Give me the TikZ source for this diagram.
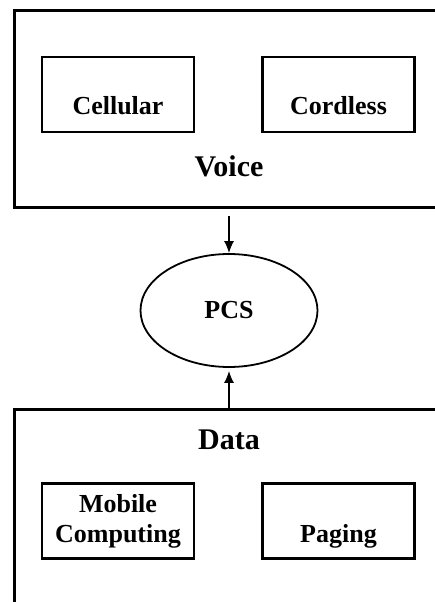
\documentclass[tikz,border=0pt]{standalone}
\usepackage{fontspec}
\setmainfont{Liberation Serif}
\usetikzlibrary{shapes.geometric,arrows.meta}
\begin{document}
\begin{tikzpicture}[x=1pt,y=-1pt,
  groupbox/.style={draw,line width=2.8pt,anchor=north west,inner sep=0pt,
    minimum width=460pt},
  itembox/.style={draw,line width=2.4pt,minimum width=152pt,minimum height=75pt,
    inner sep=0pt},
  itemtext/.style={font=\fontsize{26}{30}\selectfont\bfseries,align=center},
  grouptext/.style={font=\fontsize{30}{34}\selectfont\bfseries},
  hub/.style={draw,ellipse,line width=1.8pt,minimum width=177pt,
    minimum height=113pt,inner sep=0pt,font=\fontsize{26}{30}\selectfont\bfseries},
  feed/.style={line width=1.4pt,-{Latex[length=12pt,width=10pt]}}
]
\useasboundingbox (0,0) rectangle (435,602);
\clip (0,0) rectangle (435,602);

% Voice group
\node[groupbox,minimum height=197pt] (voice) at (13,9) {};
\node[itembox,label={[itemtext,yshift=-11.5pt]center:Cellular}] (cellular) at (118,94.5) {};
\node[itembox,label={[itemtext,yshift=-11.5pt]center:Cordless}] (cordless) at (338.5,94.5) {};
\node[grouptext] (voicetitle) at (229,166) {Voice};

% Central PCS node
\node[hub] (pcs) at (229,310.5) {PCS};

% Data group
\node[groupbox,minimum height=240pt] (data) at (13,408) {};
\node[grouptext] (datatitle) at (229,440) {Data};
\node[itembox,label={[itemtext]center:Mobile\\Computing}] (mobile) at (118,521) {};
\node[itembox,label={[itemtext,yshift=-15pt]center:Paging}] (paging) at (338.5,521) {};

% Connectors into PCS
\coordinate (voicefoot) at (voice.south -| pcs);
\coordinate (datahead) at (data.north -| pcs);
\draw[feed,shorten <=7pt] (voicefoot) -- (pcs.north);
\draw[feed,shorten >=3pt] (datahead) -- (pcs.south);
\end{tikzpicture}
\end{document}
